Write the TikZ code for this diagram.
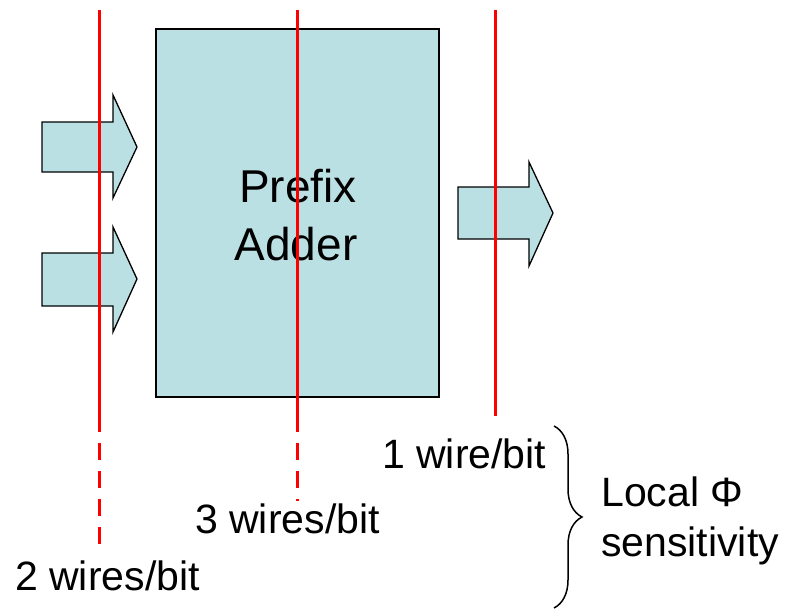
\documentclass[tikz,border=0pt]{standalone}
\usepackage{fontspec}
\setmainfont{Liberation Sans}
\usetikzlibrary{decorations.pathreplacing}
\definecolor{boxfill}{RGB}{187,224,227}
\begin{document}
\begin{tikzpicture}[x=1pt,y=-1pt,
  blockbox/.style={draw=black, line width=1.8pt, fill=boxfill, inner sep=0pt},
  fatarrow/.style={draw=black, line width=1.3pt, fill=boxfill, line join=miter},
  redline/.style={draw=red, line width=3pt},
  reddash/.style={draw=red, line width=3pt, dash pattern=on 17pt off 11pt},
  bigtxt/.style={font=\fontsize{46}{58}\selectfont, inner sep=0pt},
  lbl/.style={font=\fontsize{41}{50}\selectfont, inner sep=0pt, anchor=base west}]
\useasboundingbox (0,0) rectangle (787,610);
% block
\node[blockbox, minimum width=283pt, minimum height=368pt] (box) at (297.5,213) {};
% input arrows
\draw[fatarrow] (42,122) -- (113,122) -- (113,95) -- (137,147) -- (113,198) -- (113,172) -- (42,172) -- cycle;
\draw[fatarrow] (42,253) -- (113,253) -- (113,227) -- (137,279) -- (113,332) -- (113,306) -- (42,306) -- cycle;
% output arrow
\draw[fatarrow] (458,187) -- (529,187) -- (529,162) -- (553,213) -- (529,266) -- (529,239) -- (458,239) -- cycle;
% text in block
\node[bigtxt, anchor=base] (prefix) at (298,202) {Prefix};
\node[bigtxt, anchor=base] (adder) at (296,260) {Adder};
% cut lines
\coordinate (a1) at (99,10);  \coordinate (a2) at (99,415);  \coordinate (a3) at (99,545);
\coordinate (b1) at (297,10); \coordinate (b2) at (297,415); \coordinate (b3) at (297,501);
\coordinate (c1) at (495,10); \coordinate (c2) at (495,416);
\draw[redline] (a1) -- (a2);
\draw[reddash] (a2) -- (a3);
\draw[redline] (b1) -- (b2);
\draw[reddash] (b2) -- (b3);
\draw[redline] (c1) -- (c2);
% labels
\node[lbl] (one) at (382,468) {1 wire/bit};
\node[lbl] (three) at (195,533) {3 wires/bit};
\node[lbl] (two) at (15,590) {2 wires/bit};
\node[lbl] (local) at (601,506) {Local Φ};
\node[lbl] (sens) at (601,556) {sensitivity};
% brace
\coordinate (bt) at (554,426);
\coordinate (bb) at (554,608);
\draw[line width=1.5pt, decorate, decoration={brace, amplitude=28pt}] (bt) -- (bb);
\end{tikzpicture}
\end{document}
